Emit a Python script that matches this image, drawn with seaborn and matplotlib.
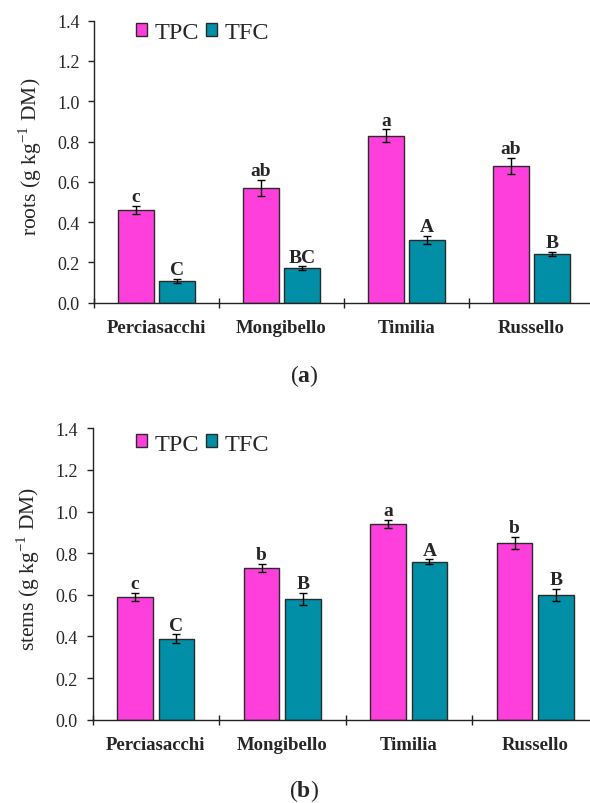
import matplotlib
matplotlib.use("Agg")
import matplotlib.pyplot as plt
from matplotlib.container import BarContainer
import seaborn as sns
import pandas as pd

# ---- data ----
cultivars = ["Perciasacchi", "Mongibello", "Timilia", "Russello"]
series = ["TPC", "TFC"]

roots_tpc = [0.46, 0.57, 0.83, 0.68]
roots_tpc_err = [0.02, 0.04, 0.03, 0.04]
roots_tfc = [0.11, 0.17, 0.31, 0.24]
roots_tfc_err = [0.01, 0.01, 0.02, 0.01]
roots_tpc_letters = ["c", "ab", "a", "ab"]
roots_tfc_letters = ["C", "BC", "A", "B"]

stems_tpc = [0.59, 0.73, 0.94, 0.85]
stems_tpc_err = [0.02, 0.02, 0.02, 0.03]
stems_tfc = [0.39, 0.58, 0.76, 0.60]
stems_tfc_err = [0.02, 0.03, 0.01, 0.03]
stems_tpc_letters = ["c", "b", "a", "b"]
stems_tfc_letters = ["C", "B", "A", "B"]

yticks = [0.0, 0.2, 0.4, 0.6, 0.8, 1.0, 1.2, 1.4]
colors = {"TPC": "#FF3FDB", "TFC": "#008FA6"}

sns.set_style("ticks")
plt.rcParams["font.family"] = ["Liberation Serif", "DejaVu Serif"]
plt.rcParams["mathtext.fontset"] = "custom"
plt.rcParams["mathtext.rm"] = "Liberation Serif"
plt.rcParams["mathtext.bf"] = "Liberation Serif:bold"

W, H = 590, 804
fig = plt.figure(figsize=(W / 100, H / 100), dpi=100)


def panel(rect, tpc, tpc_err, tfc, tfc_err, l_tpc, l_tfc, ylabel, legend_xy, caption, cap_y):
    ax = fig.add_axes(rect)
    df = pd.DataFrame({
        "cultivar": cultivars * 2,
        "series": ["TPC"] * 4 + ["TFC"] * 4,
        "value": tpc + tfc,
    })
    sns.barplot(data=df, x="cultivar", y="value", hue="series", order=cultivars,
                hue_order=series, palette=colors, width=0.656, gap=0.146,
                errorbar=None, edgecolor="#2a2a2a", linewidth=1.0, saturation=1,
                ax=ax, legend=True)
    errs = [tpc_err, tfc_err]
    vals = [tpc, tfc]
    letters = [l_tpc, l_tfc]
    bar_conts = [c for c in ax.containers if isinstance(c, BarContainer)]
    for k, cont in enumerate(bar_conts):
        for j, p in enumerate(list(cont.patches)):
            xc = p.get_x() + p.get_width() / 2
            v = vals[k][j]
            e = errs[k][j]
            ax.errorbar(xc, v, yerr=e, fmt="none", ecolor="black",
                        elinewidth=1.0, capsize=2.6, capthick=1.0, zorder=5)
            ax.annotate(letters[k][j], (xc, v + e), xytext=(0, 3.5),
                        textcoords="offset points", ha="center", va="baseline",
                        fontsize=14, fontweight="bold")
    ax.set_xlim(-0.5, 3.5)
    ax.set_ylim(0, 1.4)
    ax.set_yticks(yticks)
    ax.set_yticklabels([f"{t:.1f}" for t in yticks])
    ax.set_xticks(range(4))
    ax.set_xticklabels(cultivars, fontweight="bold", fontsize=13.5)
    ax.set_xticks([-0.5, 0.5, 1.5, 2.5, 3.5], minor=True)
    ax.tick_params(axis="x", which="major", length=0, pad=12)
    ax.tick_params(axis="x", which="minor", length=7, width=1, direction="inout", color="#222222")
    ax.tick_params(axis="y", which="major", length=4, width=1, direction="out",
                   labelsize=13, pad=6.5, color="#222222")
    ax.set_xlabel("")
    ax.set_ylabel(ylabel, fontsize=15.5)
    ax.yaxis.set_label_coords(-0.10, 0.52)
    for s in ["top", "right"]:
        ax.spines[s].set_visible(False)
    for s in ["left", "bottom"]:
        ax.spines[s].set_linewidth(1.0)
        ax.spines[s].set_color("#222222")
    ax.legend(loc="center left", bbox_to_anchor=legend_xy, ncol=2, frameon=False,
              fontsize=17.5, handlelength=0.46, handleheight=0.46, handletextpad=0.3,
              columnspacing=0.3, borderpad=0, borderaxespad=0)
    fig.text(0.515, cap_y, caption, ha="center", va="center", fontsize=17)
    return ax


panel([94 / W, 1 - 303.7 / H, 500 / W, 282 / H],
      roots_tpc, roots_tpc_err, roots_tfc, roots_tfc_err,
      roots_tpc_letters, roots_tfc_letters,
      r"roots (g kg$^{-1}$ DM)", (0.084, 0.958), r"($\mathbf{a}$)", 1 - 376 / H)

panel([92.5 / W, 1 - 720.7 / H, 506 / W, 291.4 / H],
      stems_tpc, stems_tpc_err, stems_tfc, stems_tfc_err,
      stems_tpc_letters, stems_tfc_letters,
      r"stems (g kg$^{-1}$ DM)", (0.086, 0.946), r"($\mathbf{b}$)", 1 - 791 / H)

fig.savefig("out.png", dpi=100)
